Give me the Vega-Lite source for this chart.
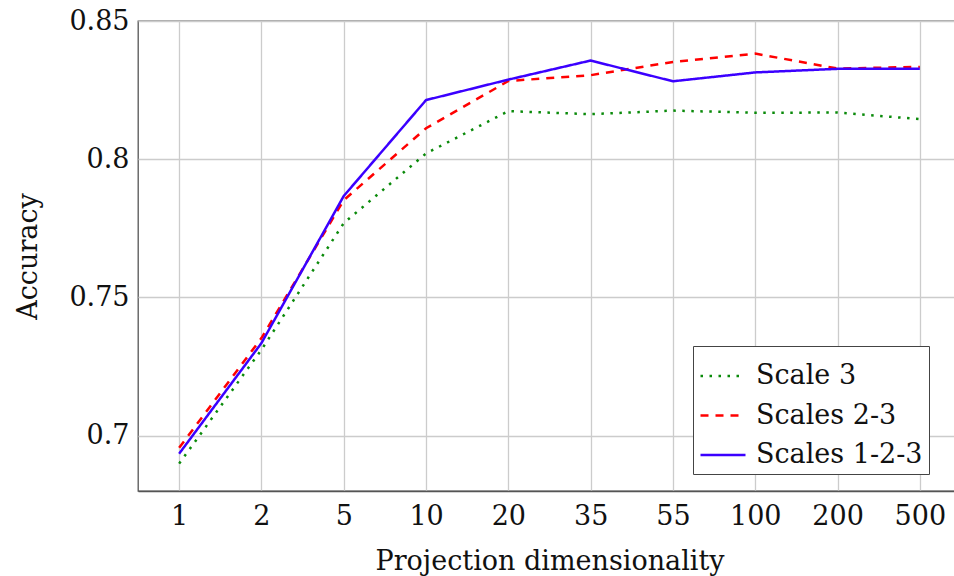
{
  "$schema": "https://vega.github.io/schema/vega-lite/v6.json",
  "autosize": {"type": "none"},
  "padding": {"left": 138, "top": 21, "right": 0, "bottom": 85},
  "width": 823,
  "height": 470,
  "background": "white",
  "config": {
    "font": "DejaVu Serif",
    "text": {"font": "DejaVu Serif"},
    "view": {"stroke": "#555555", "strokeWidth": 1.3},
    "axis": {
      "labelFont": "DejaVu Serif",
      "titleFont": "DejaVu Serif",
      "labelFontSize": 27,
      "titleFontSize": 27,
      "labelColor": "#111111",
      "titleColor": "#111111",
      "titleFontWeight": "normal",
      "gridColor": "#cccccc",
      "gridWidth": 1.3,
      "gridOpacity": 1,
      "domainColor": "#555555",
      "domainWidth": 1.3,
      "ticks": false
    },
    "legend": {
      "labelFont": "DejaVu Serif",
      "labelFontSize": 27,
      "labelColor": "#111111"
    }
  },
  "data": {
    "values": [
      {"dim": "1", "series": "Scale 3", "acc": 0.6899},
      {"dim": "2", "series": "Scale 3", "acc": 0.7311},
      {"dim": "5", "series": "Scale 3", "acc": 0.7769},
      {"dim": "10", "series": "Scale 3", "acc": 0.8021},
      {"dim": "20", "series": "Scale 3", "acc": 0.8174},
      {"dim": "35", "series": "Scale 3", "acc": 0.8163},
      {"dim": "55", "series": "Scale 3", "acc": 0.8176},
      {"dim": "100", "series": "Scale 3", "acc": 0.8168},
      {"dim": "200", "series": "Scale 3", "acc": 0.8169},
      {"dim": "500", "series": "Scale 3", "acc": 0.8145},
      {"dim": "1", "series": "Scales 2-3", "acc": 0.6956},
      {"dim": "2", "series": "Scales 2-3", "acc": 0.7353},
      {"dim": "5", "series": "Scales 2-3", "acc": 0.7852},
      {"dim": "10", "series": "Scales 2-3", "acc": 0.8112},
      {"dim": "20", "series": "Scales 2-3", "acc": 0.8283},
      {"dim": "35", "series": "Scales 2-3", "acc": 0.8304},
      {"dim": "55", "series": "Scales 2-3", "acc": 0.8352},
      {"dim": "100", "series": "Scales 2-3", "acc": 0.8382},
      {"dim": "200", "series": "Scales 2-3", "acc": 0.8328},
      {"dim": "500", "series": "Scales 2-3", "acc": 0.8334},
      {"dim": "1", "series": "Scales 1-2-3", "acc": 0.6935},
      {"dim": "2", "series": "Scales 1-2-3", "acc": 0.7335},
      {"dim": "5", "series": "Scales 1-2-3", "acc": 0.7867},
      {"dim": "10", "series": "Scales 1-2-3", "acc": 0.8214},
      {"dim": "20", "series": "Scales 1-2-3", "acc": 0.8288},
      {"dim": "35", "series": "Scales 1-2-3", "acc": 0.8357},
      {"dim": "55", "series": "Scales 1-2-3", "acc": 0.8282},
      {"dim": "100", "series": "Scales 1-2-3", "acc": 0.8314},
      {"dim": "200", "series": "Scales 1-2-3", "acc": 0.8327},
      {"dim": "500", "series": "Scales 1-2-3", "acc": 0.8327}
    ]
  },
  "mark": {"type": "line", "strokeWidth": 2.5, "clip": true},
  "encoding": {
    "x": {
      "field": "dim",
      "type": "ordinal",
      "sort": ["1", "2", "5", "10", "20", "35", "55", "100", "200", "500"],
      "scale": {"type": "point", "padding": 0.5},
      "axis": {
        "title": "Projection dimensionality",
        "labelAngle": 0,
        "grid": true,
        "labelPadding": 12,
        "titlePadding": 19
      }
    },
    "y": {
      "field": "acc",
      "type": "quantitative",
      "scale": {"domain": [0.68, 0.85], "nice": false, "zero": false},
      "axis": {
        "title": "Accuracy",
        "values": [0.7, 0.75, 0.8, 0.85],
        "format": "~g",
        "grid": true,
        "domain": false,
        "labelPadding": 9,
        "titlePadding": 26
      }
    },
    "color": {
      "field": "series",
      "type": "nominal",
      "scale": {
        "domain": ["Scale 3", "Scales 2-3", "Scales 1-2-3"],
        "range": ["#0a8a0a", "#ff0000", "#3b00ff"]
      },
      "legend": {
        "title": null,
        "orient": "none",
        "legendX": 555,
        "legendY": 325,
        "fillColor": "white",
        "strokeColor": "#444444",
        "padding": 6,
        "symbolType": "stroke",
        "symbolSize": 2025,
        "symbolStrokeWidth": 2.5,
        "labelFont": "DejaVu Serif",
        "labelFontSize": 27,
        "labelOffset": 9,
        "rowPadding": 2.5,
        "labelLimit": 400,
        "encode": {
          "labels": {"update": {"font": {"value": "DejaVu Serif"}}}
        }
      }
    },
    "strokeDash": {
      "field": "series",
      "type": "nominal",
      "scale": {
        "domain": ["Scale 3", "Scales 2-3", "Scales 1-2-3"],
        "range": [[2.5, 6.5], [8, 7], [1, 0]]
      },
      "legend": null
    }
  }
}
